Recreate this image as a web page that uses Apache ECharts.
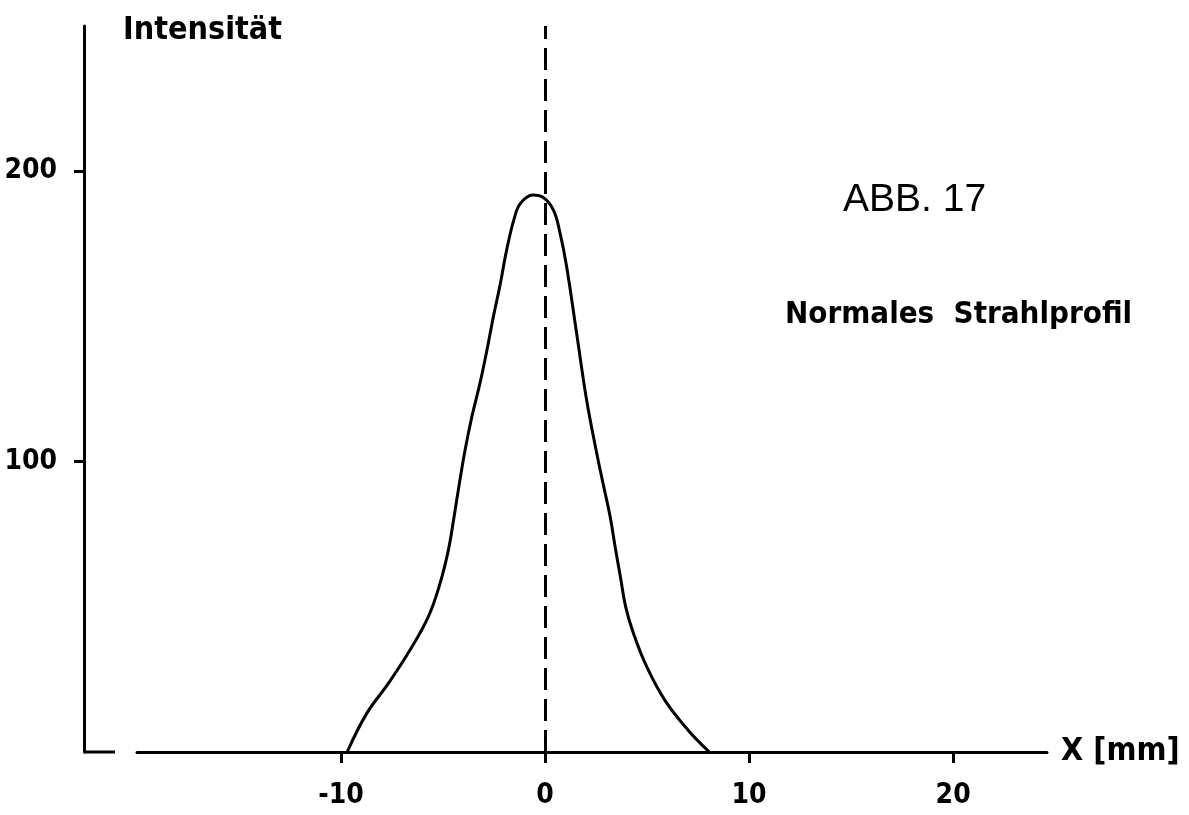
<!DOCTYPE html>
<html lang="de">
<head>
    <meta charset="UTF-8">
    <title>Normales Strahlprofil</title>
    <script src="https://cdn.jsdelivr.net/npm/echarts@6/dist/echarts.min.js"></script>
</head>
<body style="margin:0;background:#fff;">
<div id="main" style="width:1189px;height:815px;"></div>
<script type="text/javascript">
    // Strahlprofil
    var xPos = [-9.7, -8.74, -7.68, -6.62, -5.72, -5.15, -4.74, -4.46, -4.2, -3.92, -3.59, -3.19, -2.86,
        -2.53, -2.2, -1.88, -1.5, -1.2, -0.6, -0.1, 0.41, 0.74, 1.06, 1.55, 2.04, 2.5, 2.84, 3.19,
        3.45, 3.7, 3.95, 4.33, 4.98, 5.9, 7.0, 8.05];
    var intensity = [0, 13.3, 23.6, 35.1, 46.6, 58, 69.5, 81, 92.5, 104, 115.4, 127, 138,
        150, 161, 173, 184, 189, 191.8, 191, 186.6, 178.5, 167, 144, 121, 104, 92.5, 81,
        70, 60, 50, 40.9, 29.4, 17.5, 7.6, 0];
    var xTicks = [-10, 0, 10, 20];
    var yTicks = [100, 200];

    var points = [];
    for (var i = 0; i < xPos.length; i++) {
        points.push([xPos[i], intensity[i]]);
    }

    var narrow = "'Liberation Sans Narrow', 'DejaVu Sans Condensed', sans-serif";

    var myChart = echarts.init(document.getElementById('main'));
    myChart.setOption({
        animation: false,
        backgroundColor: '#fff',
        title: [
            { text: 'Intensität', left: 118, top: 10,
              textStyle: { fontFamily: narrow, fontSize: 32, fontWeight: 'bold', color: '#000' } },
            { text: 'ABB. 17', left: 838, top: 176,
              textStyle: { fontFamily: "'Liberation Sans', Arial, sans-serif", fontSize: 39, fontWeight: 'normal', color: '#000' } },
            { text: 'Normales  Strahlprofil', left: 780, top: 294,
              textStyle: { fontFamily: narrow, fontSize: 31, fontWeight: 'bold', color: '#000' } }
        ],
        grid: { left: 137, right: 142, top: 26, bottom: 63 },
        xAxis: {
            type: 'value',
            min: -20,
            max: 24.6,
            name: 'X [mm]',
            nameLocation: 'end',
            nameGap: 14,
            nameTextStyle: { fontFamily: narrow, fontSize: 32, fontWeight: 'bold', color: '#000' },
            axisLine: { lineStyle: { color: '#000', width: 3 } },
            axisTick: { customValues: xTicks, length: 11, lineStyle: { color: '#000', width: 3 } },
            axisLabel: { customValues: xTicks, margin: 30, fontFamily: narrow, fontSize: 28,
                         fontWeight: 'bold', color: '#000' },
            splitLine: { show: false }
        },
        yAxis: {
            type: 'value',
            min: 0,
            max: 250,
            offset: 53,
            axisLine: { show: true, onZero: false, lineStyle: { color: '#000', width: 3 } },
            axisTick: { show: true, customValues: yTicks, length: 10, lineStyle: { color: '#000', width: 3 } },
            axisLabel: { customValues: yTicks, margin: 27, fontFamily: narrow, fontSize: 28,
                         fontWeight: 'bold', color: '#000' },
            splitLine: { show: false }
        },
        graphic: [
            // kurzer waagerechter Schenkel am Fuß der y-Achse
            { type: 'line', shape: { x1: 84, y1: 752, x2: 115, y2: 752 },
              style: { stroke: '#000', lineWidth: 3 } }
        ],
        series: [
            {
                name: 'Intensität',
                type: 'line',
                data: points,
                smooth: 0.4,
                showSymbol: false,
                lineStyle: { color: '#000', width: 3 },
                markLine: {
                    silent: true,
                    symbol: 'none',
                    label: { show: false },
                    lineStyle: { color: '#000', width: 3, type: [22, 9] },
                    data: [{ xAxis: 0 }]
                }
            }
        ]
    });
</script>
</body>
</html>
